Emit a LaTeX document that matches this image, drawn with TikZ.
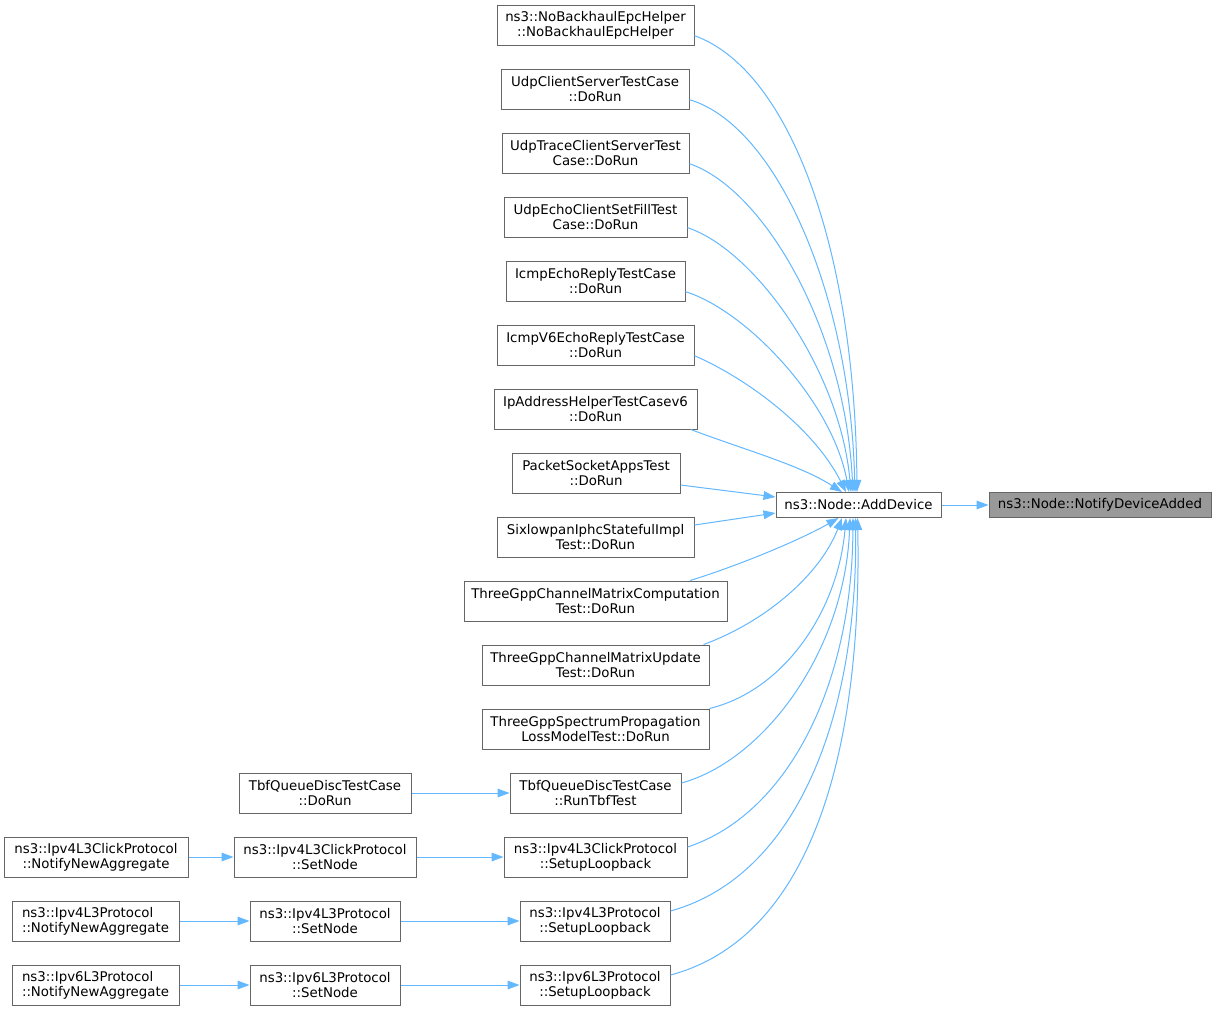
\documentclass[tikz,border=0pt]{standalone}
\usepackage{fontspec}
\setmainfont{DejaVu Sans}
\usetikzlibrary{arrows.meta,calc}
\definecolor{edgeblue}{HTML}{63B8FF}
\definecolor{boxgray}{HTML}{666666}
\definecolor{rootgray}{HTML}{999999}

\begin{document}
\begin{tikzpicture}[
    x=0.75pt, y=-0.75pt,
    fn/.style={
        rectangle,
        draw=boxgray,
        line width=0.75pt,
        fill=white,
        inner sep=0pt,
        minimum height=30pt,
        align=center,
        font=\fontsize{10}{11.25}\selectfont
    },
    onefn/.style={fn, minimum height=18.75pt},
    edge/.style={-{Triangle[length=9pt,width=6.5pt]}, draw=edgeblue, line width=0.75pt}
]

\fill[white] (0,0) rectangle (1216,1011);
\useasboundingbox (0,0) rectangle (1216,1011);

\node[onefn, fill=rootgray, minimum width=166.5pt] (root) at (1100,505) {ns3::Node::NotifyDeviceAdded};
\node[onefn, minimum width=123.75pt] (add) at (858.5,505) {ns3::Node::AddDevice};

\node[fn, minimum width=147.75pt] (c1) at (595.5,25) {ns3::NoBackhaulEpcHelper\\::NoBackhaulEpcHelper};
\node[fn, minimum width=141pt] (c2) at (595,89) {UdpClientServerTestCase\\::DoRun};
\node[fn, minimum width=140.25pt] (c3) at (595.5,153) {UdpTraceClientServerTest\\Case::DoRun};
\node[fn, minimum width=137.25pt] (c4) at (595.5,217) {UdpEchoClientSetFillTest\\Case::DoRun};
\node[fn, minimum width=134.25pt] (c5) at (595.5,281) {IcmpEchoReplyTestCase\\::DoRun};
\node[fn, minimum width=147.75pt] (c6) at (595.5,345) {IcmpV6EchoReplyTestCase\\::DoRun};
\node[fn, minimum width=152.25pt] (c7) at (595.5,409) {IpAddressHelperTestCasev6\\::DoRun};
\node[fn, minimum width=126pt] (c8) at (596,473) {PacketSocketAppsTest\\::DoRun};
\node[fn, minimum width=147.75pt] (c9) at (595.5,537) {SixlowpanIphcStatefulImpl\\Test::DoRun};
\node[fn, minimum width=197.25pt] (c10) at (595.5,601) {ThreeGppChannelMatrixComputation\\Test::DoRun};
\node[fn, minimum width=170.25pt] (c11) at (595.5,665) {ThreeGppChannelMatrixUpdate\\Test::DoRun};
\node[fn, minimum width=170.25pt] (c12) at (595.5,729) {ThreeGppSpectrumPropagation\\LossModelTest::DoRun};
\node[fn, minimum width=128.25pt] (c13) at (595.5,793) {TbfQueueDiscTestCase\\::RunTbfTest};
\node[fn, minimum width=137.25pt] (c14) at (595.5,857) {ns3::Ipv4L3ClickProtocol\\::SetupLoopback};
\node[fn, minimum width=112.5pt] (c15) at (595,921) {ns3::Ipv4L3Protocol\\::SetupLoopback};
\node[fn, minimum width=112.5pt] (c16) at (595,985) {ns3::Ipv6L3Protocol\\::SetupLoopback};

\node[fn, minimum width=129pt] (t13) at (325,793) {TbfQueueDiscTestCase\\::DoRun};
\node[fn, minimum width=136.5pt] (s14) at (325,857) {ns3::Ipv4L3ClickProtocol\\::SetNode};
\node[fn, minimum width=112.5pt] (s15) at (325,921) {ns3::Ipv4L3Protocol\\::SetNode};
\node[fn, minimum width=112.5pt] (s16) at (325,985) {ns3::Ipv6L3Protocol\\::SetNode};

\node[fn, minimum width=138pt] (n14) at (96,857) {ns3::Ipv4L3ClickProtocol\\::NotifyNewAggregate};
\node[fn, align=left, minimum width=125.25pt] (n15) at (95.5,921) {ns3::Ipv4L3Protocol\\::NotifyNewAggregate};
\node[fn, align=left, minimum width=125.25pt] (n16) at (95.5,985) {ns3::Ipv6L3Protocol\\::NotifyNewAggregate};

\draw[edge] (add.east) -- (root.west);

\draw[edge] ([yshift=-8pt]c1.east) .. controls (790,70) and (855,250) .. ($(add.north)+(-1.5,0)$);
\draw[edge] ([yshift=-8pt]c2.east) .. controls (775,125) and (850,290) .. ($(add.north)+(-3.5,0)$);
\draw[edge] ([yshift=-8pt]c3.east) .. controls (765,190) and (845,330) .. ($(add.north)+(-5.5,0)$);
\draw[edge] ([yshift=-8pt]c4.east) .. controls (755,250) and (840,370) .. ($(add.north)+(-7.5,0)$);
\draw[edge] ([yshift=-8pt]c5.east) .. controls (745,310) and (832,400) .. ($(add.north)+(-9.5,0)$);
\draw[edge] ([yshift=-8pt]c6.east) .. controls (750,380) and (815,430) .. ($(add.north)+(-12.5,0)$);
\draw[edge] ([xshift=-5pt]c7.south east) .. controls (745,450) and (800,465) .. ($(add.north)+(-16.5,0)$);
\draw[edge] ([yshift=-9pt]c8.east) -- ([yshift=6pt]add.west);
\draw[edge] ([yshift=9pt]c9.east) -- ([yshift=-6pt]add.west);
\draw[edge] ([xshift=-28pt]c10.north east) .. controls (740,565) and (800,540) .. ($(add.south)+(-20,0)$);
\draw[edge] ([xshift=-4.5pt]c11.north east) .. controls (765,622) and (820,575) .. ($(add.south)+(-16.5,0)$);
\draw[edge] (c12.north east) .. controls (785,690) and (838,610) .. ($(add.south)+(-12.5,0)$);
\draw[edge] ([yshift=7.5pt]c13.east) .. controls (765,760) and (845,650) .. ($(add.south)+(-8.5,0)$);
\draw[edge] ([yshift=7.5pt]c14.east) .. controls (785,815) and (852,690) .. ($(add.south)+(-5.5,0)$);
\draw[edge] ([yshift=7.5pt]c15.east) .. controls (800,875) and (858,710) .. ($(add.south)+(-3,0)$);
\draw[edge] ([yshift=7.5pt]c16.east) .. controls (820,935) and (862,730) .. ($(add.south)+(-1,0)$);

\draw[edge] (t13.east) -- (c13.west);
\draw[edge] (s14.east) -- (c14.west);
\draw[edge] (s15.east) -- (c15.west);
\draw[edge] (s16.east) -- (c16.west);
\draw[edge] (n14.east) -- (s14.west);
\draw[edge] (n15.east) -- (s15.west);
\draw[edge] (n16.east) -- (s16.west);

\end{tikzpicture}
\end{document}
